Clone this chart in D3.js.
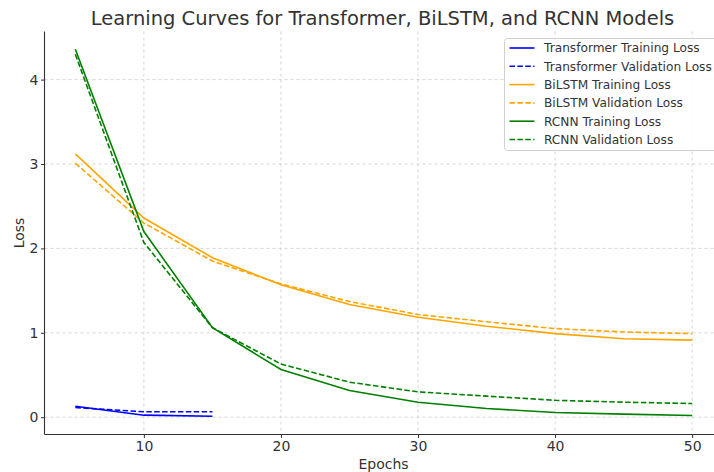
<!DOCTYPE html>
<html><head><meta charset="utf-8">
<script src="https://cdn.jsdelivr.net/npm/d3@7"></script>
<style>body{margin:0;background:#fff;} svg{display:block;font-family:"DejaVu Sans",sans-serif;}</style>
</head><body>
<svg id="chart" width="714" height="472"></svg>
<script>
const epochsT = [5, 10, 15];
const epochs = [5, 10, 15, 20, 25, 30, 35, 40, 45, 50];
const transformerTrain = [0.13, 0.024, 0.012];
const transformerVal = [0.115, 0.064, 0.064];
const bilstmTrain = [3.12, 2.36, 1.89, 1.57, 1.335, 1.185, 1.078, 0.99, 0.93, 0.913];
const bilstmVal = [3.01, 2.30, 1.85, 1.58, 1.37, 1.217, 1.13, 1.05, 1.01, 0.99];
const rcnnTrain = [4.36, 2.20, 1.06, 0.565, 0.316, 0.178, 0.103, 0.056, 0.036, 0.02];
const rcnnVal = [4.30, 2.07, 1.06, 0.63, 0.415, 0.30, 0.25, 0.20, 0.178, 0.162];
const xTicks = [10, 20, 30, 40, 50];
const yTicks = [0, 1, 2, 3, 4];
const seriesNames = ["Transformer Training Loss","Transformer Validation Loss","BiLSTM Training Loss","BiLSTM Validation Loss","RCNN Training Loss","RCNN Validation Loss"];
const seriesColors = ["#0000ff","#0000ff","#ffa500","#ffa500","#008000","#008000"];
const seriesDashed = [false,true,false,true,false,true];

const series = [
  {x: epochsT, y: transformerTrain},
  {x: epochsT, y: transformerVal},
  {x: epochs, y: bilstmTrain},
  {x: epochs, y: bilstmVal},
  {x: epochs, y: rcnnTrain},
  {x: epochs, y: rcnnVal}
].map((s,i)=>({...s, name: seriesNames[i], color: seriesColors[i], dashed: seriesDashed[i]}));

const svg = d3.select("#chart");
const L = 44.5, R = 723, T = 31.5, B = 434.5;
const x = d3.scaleLinear().domain([2.75, 52.25]).range([L, R]);
const y = d3.scaleLinear().domain([-0.205, 4.57]).range([B, T]);
const textCol = "#333333";

// grid
const g = svg.append("g");
g.selectAll(".gx").data(xTicks).enter().append("line")
  .attr("x1", d=>x(d)).attr("x2", d=>x(d)).attr("y1", T).attr("y2", B)
  .attr("stroke", "#cccccc").attr("stroke-width", 0.8).attr("stroke-dasharray", "3,3");
g.selectAll(".gy").data(yTicks).enter().append("line")
  .attr("x1", L).attr("x2", R).attr("y1", d=>y(d)).attr("y2", d=>y(d))
  .attr("stroke", "#cccccc").attr("stroke-width", 0.8).attr("stroke-dasharray", "3,3");

// lines
const line = d3.line();
series.forEach(s => {
  svg.append("path")
    .attr("d", line(s.x.map((xv,i)=>[x(xv), y(s.y[i])])))
    .attr("fill", "none").attr("stroke", s.color).attr("stroke-width", 1.6)
    .attr("stroke-dasharray", s.dashed ? "5.5,2.4" : null);
});

// axes
const xAxis = svg.append("g").attr("transform", `translate(0,${B})`)
  .call(d3.axisBottom(x).tickValues(xTicks).tickFormat(d3.format("d")).tickSize(3.5).tickPadding(3));
const yAxis = svg.append("g").attr("transform", `translate(${L},0)`)
  .call(d3.axisLeft(y).tickValues(yTicks).tickFormat(d3.format("d")).tickSize(3.5).tickPadding(2.5));
[xAxis, yAxis].forEach(a => {
  a.select(".domain").attr("stroke", "#333").attr("stroke-width", 1.1);
  a.selectAll(".tick line").attr("stroke", "#333");
  a.selectAll(".tick text").attr("fill", textCol).attr("font-size", 14).attr("font-family", "DejaVu Sans");
});
xAxis.select(".domain").attr("d", `M${L},0H${R}`);
yAxis.select(".domain").attr("d", `M0,${B}V${T}`);

// labels
svg.append("text").attr("x", 383.5).attr("y", 469.3).attr("text-anchor", "middle")
  .attr("font-size", 14).attr("fill", textCol).text("Epochs");
svg.append("text").attr("transform", `translate(24,${(T+B)/2}) rotate(-90)`).attr("text-anchor", "middle")
  .attr("font-size", 14).attr("fill", textCol).text("Loss");
svg.append("text").attr("x", 382.5).attr("y", 25).attr("text-anchor", "middle")
  .attr("font-size", 19.5).attr("fill", textCol).text("Learning Curves for Transformer, BiLSTM, and RCNN Models");

// legend
const lg = svg.append("g").attr("transform", "translate(504.5,38.5)");
lg.append("rect").attr("width", 222).attr("height", 112).attr("rx", 3)
  .attr("fill", "#ffffff").attr("fill-opacity", 0.85).attr("stroke", "#d0d0d0").attr("stroke-width", 1);
series.forEach((s,i) => {
  const yy = 9.5 + i*18.3;
  lg.append("line").attr("x1", 5).attr("x2", 30).attr("y1", yy).attr("y2", yy)
    .attr("stroke", s.color).attr("stroke-width", 1.6).attr("stroke-dasharray", s.dashed ? "5.5,2.4" : null);
  lg.append("text").attr("x", 39.5).attr("y", yy + 4.3).attr("font-size", 12.2).attr("fill", textCol).text(s.name);
});
</script>
</body></html>
